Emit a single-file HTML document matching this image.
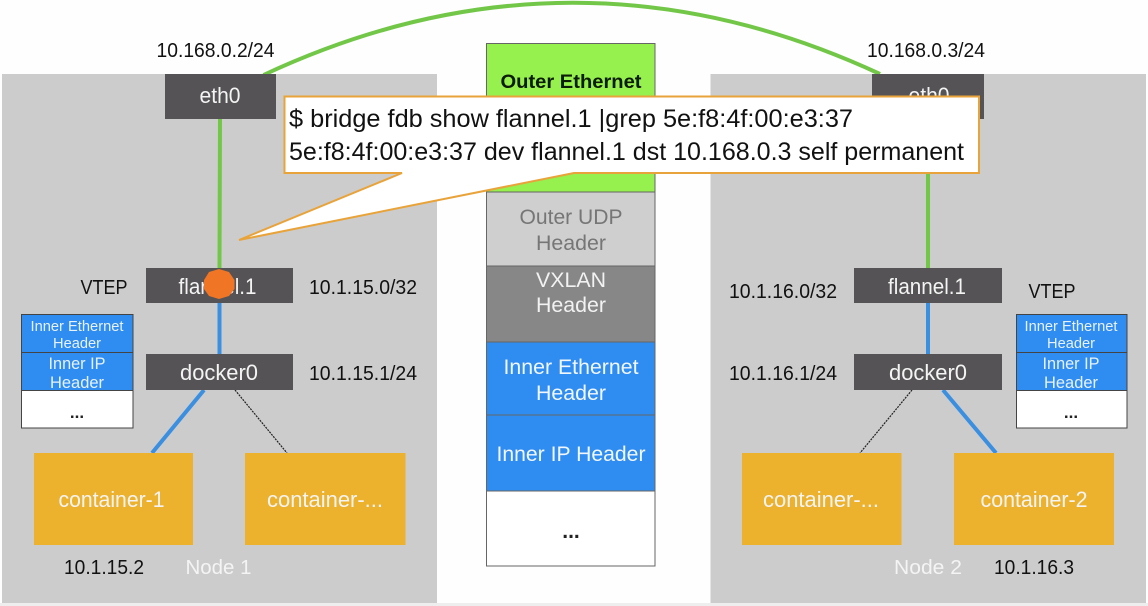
<!DOCTYPE html>
<html lang="en">
<head>
<meta charset="utf-8">
<title>Flannel VXLAN diagram</title>
<style>
html,body{margin:0;padding:0;background:#fff}
svg{display:block;filter:blur(.35px)}
text{font-family:"Liberation Sans",sans-serif}
</style>
</head>
<body>
<svg xmlns="http://www.w3.org/2000/svg" width="1148" height="606" viewBox="0 0 1148 606">
<rect width="1148" height="606" fill="#fefefe"/>
<rect y="603" width="1148" height="3" fill="#eeeeee"/>
<rect x="2" y="74" width="435" height="529" fill="#cdcccd"/>
<rect x="710.5" y="74" width="435.5" height="529" fill="#cdcccd"/>

<!-- curve -->
<path d="M263.5 75 Q572 -69 880 74" fill="none" stroke="#73c748" stroke-width="4"/>

<!-- vertical links -->
<line x1="220" y1="119" x2="219.5" y2="268" stroke="#73c748" stroke-width="4"/>
<line x1="928" y1="119" x2="928" y2="268" stroke="#73c748" stroke-width="4"/>
<line x1="219.5" y1="303" x2="219.5" y2="354" stroke="#3a8fe0" stroke-width="4"/>
<line x1="928" y1="303" x2="928" y2="354" stroke="#3a8fe0" stroke-width="4"/>
<line x1="204" y1="390" x2="152" y2="453" stroke="#3a8fe0" stroke-width="4"/>
<line x1="943" y1="390" x2="996" y2="453" stroke="#3a8fe0" stroke-width="4"/>
<line x1="235" y1="390" x2="287" y2="453" stroke="#222" stroke-width="1.2" stroke-dasharray="2 1"/>
<line x1="912" y1="390" x2="860" y2="453" stroke="#222" stroke-width="1.2" stroke-dasharray="2 1"/>

<!-- dark boxes -->
<g fill="#555355">
<rect x="165" y="74" width="111" height="45"/>
<rect x="872" y="74" width="112" height="45"/>
<rect x="146" y="268" width="147" height="35"/>
<rect x="854" y="268" width="148" height="35"/>
<rect x="146" y="354" width="147" height="36"/>
<rect x="854" y="354" width="148" height="36"/>
</g>

<!-- containers -->
<g fill="#ecb22e">
<rect x="34" y="453" width="159" height="92"/>
<rect x="245" y="453" width="160.500" height="92"/>
<rect x="742" y="453" width="159.500" height="92"/>
<rect x="954" y="453" width="160" height="92"/>
</g>

<!-- mini tables -->
<g stroke="#444" stroke-width="1">
<rect x="21.500" y="314.500" width="111.500" height="38" fill="#2f8cf0"/>
<rect x="21.500" y="352.500" width="111.500" height="38" fill="#2f8cf0"/>
<rect x="21.500" y="390.500" width="111.500" height="37.500" fill="#fff"/>
<rect x="1016.500" y="314.500" width="110.500" height="38" fill="#2f8cf0"/>
<rect x="1016.500" y="352.500" width="110.500" height="38" fill="#2f8cf0"/>
<rect x="1016.500" y="390.500" width="110.500" height="37.500" fill="#fff"/>
</g>

<!-- center stack -->
<g stroke="#666" stroke-width="1">
<rect x="486.500" y="43.500" width="168.500" height="148.500" fill="#96f04e"/>
<rect x="486.500" y="192" width="168.500" height="74" fill="#cfcfcf"/>
<rect x="486.500" y="266" width="168.500" height="76" fill="#878787"/>
<rect x="486.500" y="342" width="168.500" height="73" fill="#2f8cf0"/>
<rect x="486.500" y="415" width="168.500" height="76" fill="#2f8cf0"/>
<rect x="486.500" y="491" width="168.500" height="75" fill="#fff"/>
</g>

<!-- labels on diagram -->
<g fill="#111" font-size="20" text-anchor="middle">
<text x="215.500" y="57" textLength="118" lengthAdjust="spacingAndGlyphs">10.168.0.2/24</text>
<text x="926" y="57" textLength="118" lengthAdjust="spacingAndGlyphs">10.168.0.3/24</text>
<text x="104" y="294" textLength="47" lengthAdjust="spacingAndGlyphs">VTEP</text>
<text x="1052" y="298" textLength="47" lengthAdjust="spacingAndGlyphs">VTEP</text>
<text x="363" y="294" textLength="108" lengthAdjust="spacingAndGlyphs">10.1.15.0/32</text>
<text x="783" y="298" textLength="108" lengthAdjust="spacingAndGlyphs">10.1.16.0/32</text>
<text x="363" y="380" textLength="108" lengthAdjust="spacingAndGlyphs">10.1.15.1/24</text>
<text x="783" y="380" textLength="108" lengthAdjust="spacingAndGlyphs">10.1.16.1/24</text>
<text x="104" y="574" textLength="80" lengthAdjust="spacingAndGlyphs">10.1.15.2</text>
<text x="1034" y="574" textLength="80" lengthAdjust="spacingAndGlyphs">10.1.16.3</text>
</g>

<g fill="#f4f4f4" font-size="22" text-anchor="middle">
<text x="220" y="103" textLength="41" lengthAdjust="spacingAndGlyphs">eth0</text>
<text x="929" y="103" textLength="41" lengthAdjust="spacingAndGlyphs">eth0</text>
<text x="217.500" y="294" textLength="78" lengthAdjust="spacingAndGlyphs">flannel.1</text>
<text x="927" y="294" textLength="78" lengthAdjust="spacingAndGlyphs">flannel.1</text>
<text x="219" y="380" textLength="78" lengthAdjust="spacingAndGlyphs">docker0</text>
<text x="928" y="380" textLength="78" lengthAdjust="spacingAndGlyphs">docker0</text>
<text x="111.500" y="507" textLength="106" lengthAdjust="spacingAndGlyphs">container-1</text>
<text x="325" y="507" textLength="116" lengthAdjust="spacingAndGlyphs">container-...</text>
<text x="821" y="507" textLength="116" lengthAdjust="spacingAndGlyphs">container-...</text>
<text x="1034" y="507" textLength="107" lengthAdjust="spacingAndGlyphs">container-2</text>
<text x="218.500" y="574" font-size="20" textLength="66" lengthAdjust="spacingAndGlyphs">Node 1</text>
<text x="928" y="574" font-size="20" textLength="68" lengthAdjust="spacingAndGlyphs">Node 2</text>
</g>

<g fill="#e8f2fd" text-anchor="middle">
<text x="77" y="331" font-size="14.500" textLength="93" lengthAdjust="spacingAndGlyphs">Inner Ethernet</text>
<text x="77" y="348" font-size="14.500" textLength="48" lengthAdjust="spacingAndGlyphs">Header</text>
<text x="77" y="369" font-size="16.500" textLength="57" lengthAdjust="spacingAndGlyphs">Inner IP</text>
<text x="77" y="388" font-size="16.500" textLength="54" lengthAdjust="spacingAndGlyphs">Header</text>
<text x="1071" y="331" font-size="14.500" textLength="93" lengthAdjust="spacingAndGlyphs">Inner Ethernet</text>
<text x="1071" y="348" font-size="14.500" textLength="48" lengthAdjust="spacingAndGlyphs">Header</text>
<text x="1071" y="369" font-size="16.500" textLength="57" lengthAdjust="spacingAndGlyphs">Inner IP</text>
<text x="1071" y="388" font-size="16.500" textLength="54" lengthAdjust="spacingAndGlyphs">Header</text>
</g>
<g fill="#222" font-size="17" font-weight="bold" text-anchor="middle">
<text x="77" y="418">...</text>
<text x="1071" y="418">...</text>
</g>

<!-- center stack labels -->
<g text-anchor="middle" font-size="21">
<text x="571" y="88" fill="#0c1c05" font-size="19.500" font-weight="bold" textLength="141" lengthAdjust="spacingAndGlyphs">Outer Ethernet</text>
<text x="571" y="224" fill="#767676" textLength="103" lengthAdjust="spacingAndGlyphs">Outer UDP</text>
<text x="571" y="250" fill="#767676" textLength="70" lengthAdjust="spacingAndGlyphs">Header</text>
<text x="571" y="287" fill="#f2f2f2" textLength="70" lengthAdjust="spacingAndGlyphs">VXLAN</text>
<text x="571" y="312" fill="#f2f2f2" textLength="70" lengthAdjust="spacingAndGlyphs">Header</text>
<text x="571" y="374" fill="#f2f7fd" textLength="135" lengthAdjust="spacingAndGlyphs">Inner Ethernet</text>
<text x="571" y="400" fill="#f2f7fd" textLength="70" lengthAdjust="spacingAndGlyphs">Header</text>
<text x="571" y="461" fill="#f2f7fd" textLength="149" lengthAdjust="spacingAndGlyphs">Inner IP Header</text>
<text x="571" y="538" fill="#222" font-weight="bold">...</text>
</g>

<!-- callout -->
<path d="M284.500 96.500 H979 V173 H574 L239 240 L402 173 H284.500 Z" fill="#fff" stroke="#e8a33a" stroke-width="2"/>
<g fill="#111" font-size="25">
<text x="289" y="127" textLength="564" lengthAdjust="spacingAndGlyphs">$ bridge fdb show flannel.1 |grep 5e:f8:4f:00:e3:37</text>
<text x="289" y="160" textLength="675" lengthAdjust="spacingAndGlyphs">5e:f8:4f:00:e3:37 dev flannel.1 dst 10.168.0.3 self permanent</text>
</g>

<!-- orange marker -->
<polygon points="219,269 229,272 234.500,280 234.500,289 229,296 219,299 209,296 204,289 204,280 209,272" fill="#f07524"/>
</svg>
</body>
</html>
